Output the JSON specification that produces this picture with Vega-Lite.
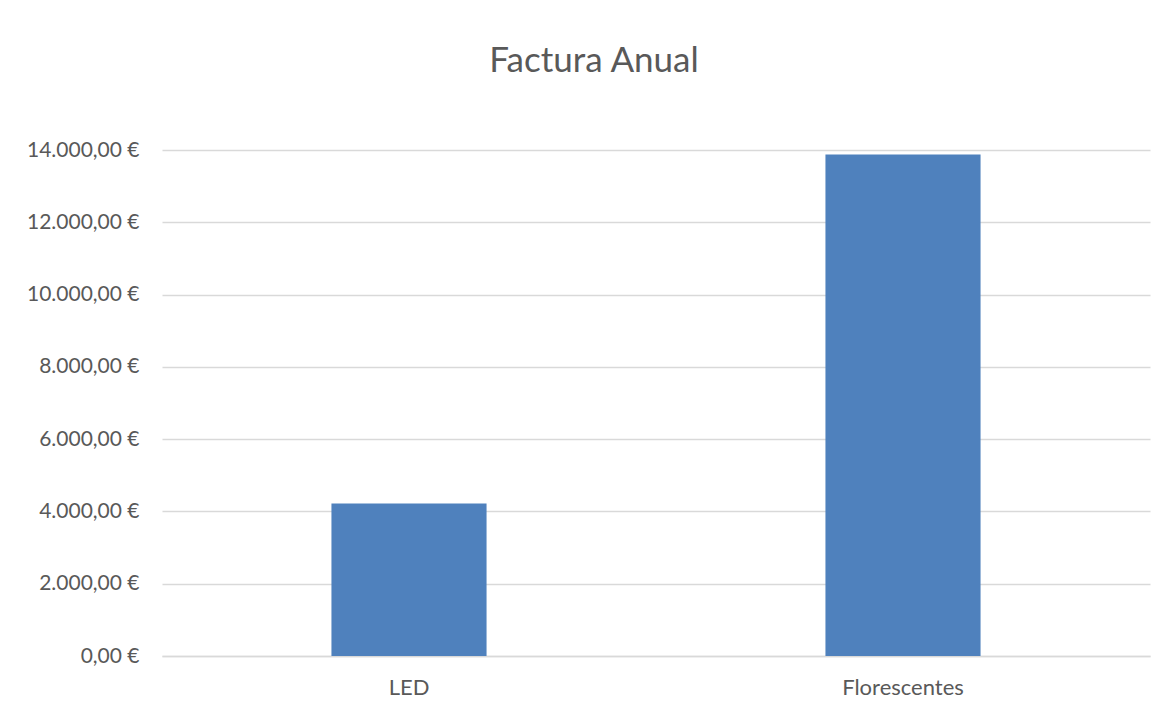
{
  "$schema": "https://vega.github.io/schema/vega-lite/v6.json",
  "width": 988,
  "height": 506,
  "autosize": {"type": "none"},
  "padding": {"left": 162, "top": 150, "right": 19, "bottom": 55},
  "background": "white",
  "title": {
    "text": "Factura Anual",
    "fontSize": 35,
    "font": "Lato",
    "fontWeight": "normal",
    "color": "#595959",
    "anchor": "middle",
    "baseline": "alphabetic",
    "dx": -62,
    "offset": 32
  },
  "data": {
    "values": [
      {"tipo": "LED", "factura": 4221},
      {"tipo": "Florescentes", "factura": 13878}
    ]
  },
  "mark": {"type": "bar", "color": "#4f81bd"},
  "encoding": {
    "x": {
      "field": "tipo",
      "type": "nominal",
      "sort": null,
      "title": null,
      "scale": {"paddingInner": 0.686, "paddingOuter": 0.343},
      "axis": {
        "labelAngle": 0,
        "ticks": false,
        "domain": true,
        "domainColor": "#d9d9d9",
        "domainWidth": 1.5,
        "labelPadding": 21,
        "labelFontSize": 22,
        "labelFont": "Lato",
        "labelColor": "#595959"
      }
    },
    "y": {
      "field": "factura",
      "type": "quantitative",
      "title": null,
      "scale": {"domain": [0, 14000], "nice": false},
      "axis": {
        "values": [0, 2000, 4000, 6000, 8000, 10000, 12000, 14000],
        "format": ",.2f",
        "labelExpr": "datum.label + ' €'",
        "ticks": false,
        "domain": false,
        "grid": true,
        "gridColor": "#d9d9d9",
        "gridWidth": 1.5,
        "labelPadding": 23,
        "labelFontSize": 21,
        "labelFont": "Lato",
        "labelColor": "#595959"
      }
    }
  },
  "config": {
    "view": {"stroke": null},
    "locale": {
      "number": {"decimal": ",", "thousands": ".", "grouping": [3], "currency": ["", " €"]}
    }
  }
}
